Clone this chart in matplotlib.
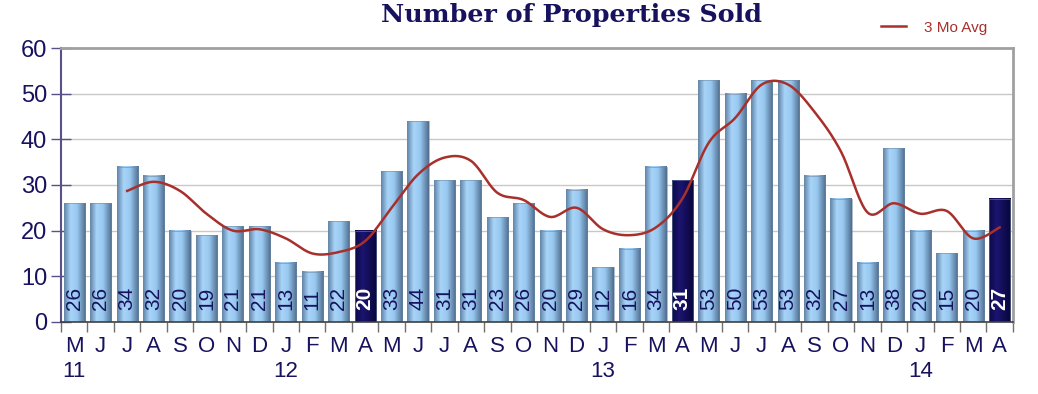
import numpy as np
import matplotlib
matplotlib.use("Agg")
import matplotlib.pyplot as plt
from matplotlib.colors import LinearSegmentedColormap
from matplotlib.lines import Line2D

months = ["M", "J", "J", "A", "S", "O", "N", "D", "J", "F", "M", "A",
          "M", "J", "J", "A", "S", "O", "N", "D", "J", "F", "M", "A",
          "M", "J", "J", "A", "S", "O", "N", "D", "J", "F", "M", "A"]
years = {0: "11", 8: "12", 20: "13", 32: "14"}
sold = [26, 26, 34, 32, 20, 19, 21, 21, 13, 11, 22, 20,
        33, 44, 31, 31, 23, 26, 20, 29, 12, 16, 34, 31,
        53, 50, 53, 53, 32, 27, 13, 38, 20, 15, 20, 27]
highlight = [11, 23, 35]  # April bars drawn dark
avg3 = [28.7, 30.7, 28.7, 23.7, 20.0, 20.3, 18.3, 15.0, 15.3, 17.7,
        25.0, 32.3, 36.0, 35.3, 28.3, 26.7, 23.0, 25.0, 20.3, 19.0,
        20.7, 27.0, 39.3, 44.7, 52.0, 52.0, 46.0, 37.3, 24.0, 26.0,
        23.7, 24.3, 18.3, 20.7]
avg_start = 2

navy = "#16125e"
red = "#a8302c"

light_cm = LinearSegmentedColormap.from_list(
    "lb", [(0, "#5f84a8"), (0.3, "#a8d4f8"), (0.6, "#98c8f0"), (1, "#4f6d8e")])
dark_cm = LinearSegmentedColormap.from_list(
    "db", [(0, "#0c0a45"), (0.35, "#1c1470"), (1, "#08063a")])


def smooth(xs, ys, n=20):
    # catmull-rom through the points, like the spreadsheet's smoothed line
    p = np.column_stack([xs, ys]).astype(float)
    p = np.vstack([p[0], p, p[-1]])
    out = []
    t = np.linspace(0, 1, n, endpoint=False)[:, None]
    for i in range(1, len(p) - 2):
        p0, p1, p2, p3 = p[i - 1], p[i], p[i + 1], p[i + 2]
        seg = 0.5 * ((2 * p1) + (-p0 + p2) * t + (2 * p0 - 5 * p1 + 4 * p2 - p3) * t ** 2
                     + (-p0 + 3 * p1 - 3 * p2 + p3) * t ** 3)
        out.append(seg)
    out.append(p[-2][None, :])
    out = np.vstack(out)
    return out[:, 0], out[:, 1]


fig = plt.figure(figsize=(10.38, 3.94), dpi=100)
ax = fig.add_axes([0.0588, 0.183, 0.917, 0.695])
plt.rcParams["font.family"] = ["Liberation Sans", "DejaVu Sans"]

n = len(sold)
x = np.arange(n)
w = 0.8
grad = np.linspace(0, 1, 64)[None, :]
for i, v in enumerate(sold):
    cm = dark_cm if i in highlight else light_cm
    ax.imshow(grad, cmap=cm, extent=(i - w / 2, i + w / 2, 0, v),
              aspect="auto", zorder=2, interpolation="bilinear")
    ax.add_patch(plt.Rectangle((i - w / 2, 0), w, v, fill=False,
                               edgecolor="#6f8aa6", lw=0.4, zorder=2.1))
    if i in highlight:
        ax.text(i, 2.6, str(v), rotation=90, ha="center", va="bottom",
                color="white", fontsize=15, fontweight="bold",
                family="Liberation Sans", zorder=3)
    else:
        ax.text(i, 2.6, str(v), rotation=90, ha="center", va="bottom",
                color=navy, fontsize=15, family="Liberation Sans", zorder=3)

sx, sy = smooth(x[avg_start:], avg3)
ax.plot(sx, sy, color=red, lw=1.8, zorder=4)

ax.set_xlim(-0.5, n - 0.5)
ax.set_ylim(0, 60)
ax.set_yticks(range(0, 61, 10))
ax.grid(axis="y", color="#c8c8c8", lw=1, zorder=0)
ax.set_axisbelow(True)

ax.set_xticks(np.arange(-0.5, n, 1))
ax.set_xticklabels([])
ax.tick_params(axis="x", direction="out", length=7, color="#707070", width=1)
ax.tick_params(axis="y", direction="inout", length=14, color="#5a5088",
               width=1, labelsize=17, labelcolor=navy, pad=3)
for lab in ax.get_yticklabels():
    lab.set_family("Liberation Sans")

for i, m in enumerate(months):
    ax.text(i, -3.0, m, ha="center", va="top", fontsize=16, color=navy,
            family="Liberation Sans")
    if i in years:
        ax.text(i, -8.6, years[i], ha="center", va="top", fontsize=16,
                color=navy, family="Liberation Sans")

ax.spines["left"].set_color("#5a5088")
ax.spines["left"].set_linewidth(1.5)
ax.spines["bottom"].set_color("#404040")
ax.spines["bottom"].set_linewidth(1.2)
ax.spines["top"].set_color("#a0a0a0")
ax.spines["top"].set_linewidth(2)
ax.spines["right"].set_color("#a0a0a0")
ax.spines["right"].set_linewidth(2)

fig.text(0.551, 0.962, "Number of Properties Sold", ha="center", va="center",
         fontsize=18.3, fontweight="bold", color=navy, family="DejaVu Serif")

leg = fig.legend([Line2D([0], [0], color=red, lw=1.8)], ["3 Mo Avg"],
                 loc="center", bbox_to_anchor=(0.9, 0.93), frameon=False,
                 handlelength=1.6, handletextpad=1.2,
                 prop={"family": "Liberation Sans", "size": 11})
for t in leg.get_texts():
    t.set_color(red)

fig.savefig("out.png", dpi=100)
